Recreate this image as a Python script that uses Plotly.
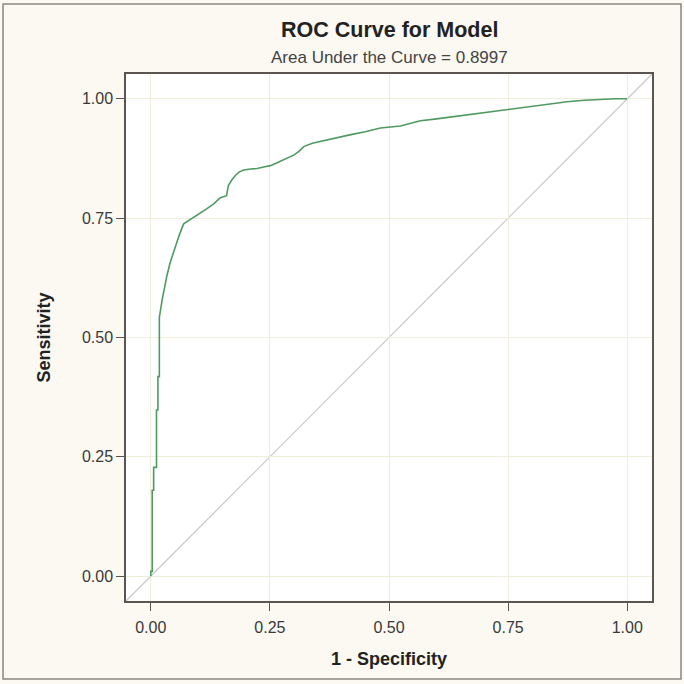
import plotly.graph_objects as go

# ROC curve points
fpr = [0.0, 0.0, 0.003, 0.003, 0.006, 0.006, 0.012, 0.012, 0.015, 0.015, 0.018, 0.018,
       0.024, 0.031, 0.034, 0.041, 0.051, 0.060, 0.069, 0.080, 0.090, 0.104, 0.118,
       0.132, 0.146, 0.159, 0.163, 0.170, 0.178, 0.186, 0.195, 0.210, 0.223, 0.237,
       0.251, 0.265, 0.279, 0.290, 0.300, 0.311, 0.321, 0.339, 0.356, 0.390, 0.420,
       0.450, 0.482, 0.524, 0.566, 0.600, 0.630, 0.650, 0.700, 0.734, 0.770, 0.804,
       0.840, 0.874, 0.910, 0.944, 0.975, 1.0]
tpr = [0.0, 0.010, 0.010, 0.180, 0.180, 0.228, 0.228, 0.348, 0.348, 0.418, 0.418, 0.542,
       0.580, 0.616, 0.630, 0.658, 0.690, 0.715, 0.738, 0.745, 0.752, 0.762, 0.770,
       0.780, 0.793, 0.797, 0.819, 0.830, 0.840, 0.847, 0.851, 0.853, 0.854, 0.857,
       0.860, 0.866, 0.872, 0.877, 0.882, 0.890, 0.900, 0.907, 0.911, 0.918, 0.925,
       0.931, 0.939, 0.943, 0.954, 0.958, 0.962, 0.964, 0.970, 0.975, 0.980, 0.985,
       0.990, 0.994, 0.997, 0.999, 1.0, 1.0]

tick_vals = [0.0, 0.25, 0.5, 0.75, 1.0]
tick_text = ["0.00", "0.25", "0.50", "0.75", "1.00"]
auc = 0.8997

FONT = "Liberation Sans, Arial, sans-serif"
BG = "#FBF9F1"
GRID = "#EFEDDC"
AXIS = "#5a5550"

fig = go.Figure()
fig.add_trace(go.Scatter(x=fpr, y=tpr, mode="lines",
                         line=dict(color="#4E9A61", width=1.6),
                         showlegend=False, hoverinfo="x+y"))

# diagonal reference line corner to corner
fig.add_shape(type="line", xref="x domain", yref="y domain", x0=0, y0=0, x1=1, y1=1,
              line=dict(color="#C8C8C8", width=1.2), layer="below")
# outer frame
fig.add_shape(type="rect", xref="paper", yref="paper",
              x0=-0.2338, x1=1.0551, y0=-0.148, y1=1.1328,
              line=dict(color="#8a8580", width=1.5))

fig.add_annotation(text="<b>ROC Curve for Model</b>", xref="paper", yref="paper",
                   x=0.5, y=1.0, yshift=44, showarrow=False, yanchor="middle",
                   font=dict(family=FONT, size=21.5, color="#222222"))
fig.add_annotation(text=f"Area Under the Curve = {auc:.4f}", xref="paper", yref="paper",
                   x=0.5, y=1.0, yshift=17, showarrow=False, yanchor="middle",
                   font=dict(family=FONT, size=17, color="#444444"))

axis_common = dict(range=[-0.052, 1.052], tickvals=tick_vals, ticktext=tick_text,
                   showgrid=True, gridcolor=GRID, gridwidth=1, zeroline=False,
                   showline=True, linecolor=AXIS, linewidth=1.5, mirror=True,
                   ticks="outside", ticklen=8, tickcolor=AXIS, tickwidth=1,
                   tickfont=dict(family=FONT, size=16, color="#3a3a3a"))

fig.update_xaxes(**axis_common, ticklabelstandoff=3,
                 title=dict(text="<b>1 - Specificity</b>", standoff=17,
                            font=dict(family=FONT, size=18, color="#222222")))
fig.update_yaxes(**axis_common,
                 title=dict(text="<b>Sensitivity</b>", standoff=27,
                            font=dict(family=FONT, size=18, color="#222222")))

fig.update_layout(width=684, height=684, autosize=False,
                  margin=dict(l=126, r=32, t=74, b=83),
                  paper_bgcolor=BG, plot_bgcolor="white",
                  font=dict(family=FONT))

fig.write_html("out.html", config={"displayModeBar": False},
               post_script="document.body.style.margin='0px';")
